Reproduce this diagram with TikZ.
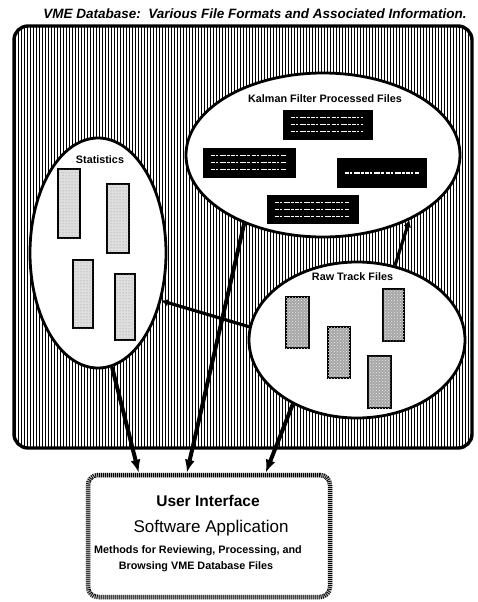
\documentclass[tikz,border=0pt]{standalone}
\usepackage{fontspec}
\setmainfont{Liberation Sans}
\usetikzlibrary{patterns,patterns.meta,arrows.meta,calc,shapes.geometric}
\begin{document}
\begin{tikzpicture}[x=1pt,y=-1pt,
  lbl/.style={font=\bfseries\fontsize{10.8}{13}\selectfont, anchor=base, inner sep=0pt},
  region/.style={ellipse, draw, line width=2.8pt, fill=white, inner sep=0pt},
  kbox/.style={rectangle, fill=black, inner sep=0pt},
  sbox/.style={rectangle, draw, line width=2.6pt, fill=gray!25, postaction={pattern=dots, pattern color=gray!90}, inner sep=0pt},
  rbox/.style={rectangle, draw, line width=2.6pt, fill=gray!70, postaction={pattern=crosshatch dots, pattern color=gray!15}, inner sep=0pt},
  scrib/.style={white, line width=1.1pt, dash pattern=on 4pt off 1pt on 2pt off 2pt on 6pt off 1pt on 3pt off 1.5pt},
  feed/.style={line width=4pt, -{Latex[length=13pt,width=10pt]}},
  link/.style={line width=3.2pt, -{Latex[length=7pt,width=8pt]}},
  uitext/.style={anchor=base, inner sep=0pt},
]
\useasboundingbox (0,0) rectangle (478,602);
\fill[white] (0,0) rectangle (478,602);

% title
\node[uitext, font=\bfseries\itshape\fontsize{13.5}{16}\selectfont] (title) at (255,18.5)
  {VME Database:\ \ Various File Formats and Associated Information.};

% database frame
\node[draw, line width=3.4pt, rounded corners=14pt, minimum width=458pt, minimum height=422pt,
      pattern={Lines[angle=90,distance=3pt,line width=0.9pt]}] (db) at (243,237) {};

% regions
\node[region, minimum width=274pt, minimum height=164pt] (kal) at (323,155) {};
\node[region, minimum width=136pt, minimum height=230pt] (stat) at (98,253) {};
\node[region, minimum width=216pt, minimum height=156pt] (raw) at (357,340) {};

\node[lbl] (kallbl) at (325,102.7) {Kalman Filter Processed Files};
\node[lbl] (statlbl) at (100,163) {Statistics};
\node[lbl] (rawlbl) at (352.5,280.7) {Raw Track Files};

% Kalman files
\node[kbox, minimum width=90pt, minimum height=30pt] (k1) at (328,125) {};
\node[kbox, minimum width=93pt, minimum height=30pt] (k2) at (249.5,163) {};
\node[kbox, minimum width=90pt, minimum height=30pt] (k3) at (382,173) {};
\node[kbox, minimum width=92pt, minimum height=29pt] (k4) at (313,209.5) {};
\foreach \k in {k1,k2,k4}{
  \foreach \d in {8,15,22}{
    \draw[scrib] ([xshift=8pt,yshift=-\d pt]\k.north west) -- ([xshift=-10pt,yshift=-\d pt]\k.north east);
  }
}
\draw[scrib] ([xshift=8pt]k3.west) -- ([xshift=-8pt]k3.east);

% statistics files
\node[sbox, minimum width=22pt, minimum height=69pt] (s1) at (69,203.5) {};
\node[sbox, minimum width=22pt, minimum height=69pt] (s2) at (118,218.5) {};
\node[sbox, minimum width=20pt, minimum height=68pt] (s3) at (83,294) {};
\node[sbox, minimum width=20pt, minimum height=66pt] (s4) at (125,307) {};

% raw track files
\node[rbox, minimum width=23pt, minimum height=51pt] (r1) at (297.5,322.5) {};
\node[rbox, minimum width=22pt, minimum height=51pt] (r2) at (339,352.5) {};
\node[rbox, minimum width=21pt, minimum height=52pt] (r3) at (393.5,315) {};
\node[rbox, minimum width=23pt, minimum height=52pt] (r4) at (379.5,382) {};

% user interface box
\node[draw=gray!55, line width=4.5pt, rounded corners=10pt, minimum width=242pt, minimum height=122pt,
      fill=white, postaction={draw=black, line width=4.5pt, dash pattern=on 0.8pt off 1.2pt}] (ui) at (209,536) {};
\node[uitext, font=\bfseries\fontsize{15.5}{18}\selectfont] (t1) at (208,506.5) {User Interface};
\node[uitext, font=\fontsize{17}{20}\selectfont] (t2) at (211,532) {Software Application};
\node[uitext, font=\bfseries\fontsize{10.8}{13}\selectfont] (t3) at (198,553) {Methods for Reviewing, Processing, and};
\node[uitext, font=\bfseries\fontsize{10.8}{13}\selectfont] (t4) at (196,569) {Browsing VME Database Files};

% connectors
\draw[link] (raw.173.6) -- (stat.-37.6);
\draw[link] (raw.63) -- (kal.-37);
\draw[feed] (stat.-83) -- ($(ui.north west)!0.215!(ui.north east)$);
\draw[feed] (kal.221) -- ($(ui.north west)!0.41!(ui.north east)$);
\draw[feed] (raw.-135) -- ($(ui.north west)!0.73!(ui.north east)$);
\end{tikzpicture}
\end{document}
